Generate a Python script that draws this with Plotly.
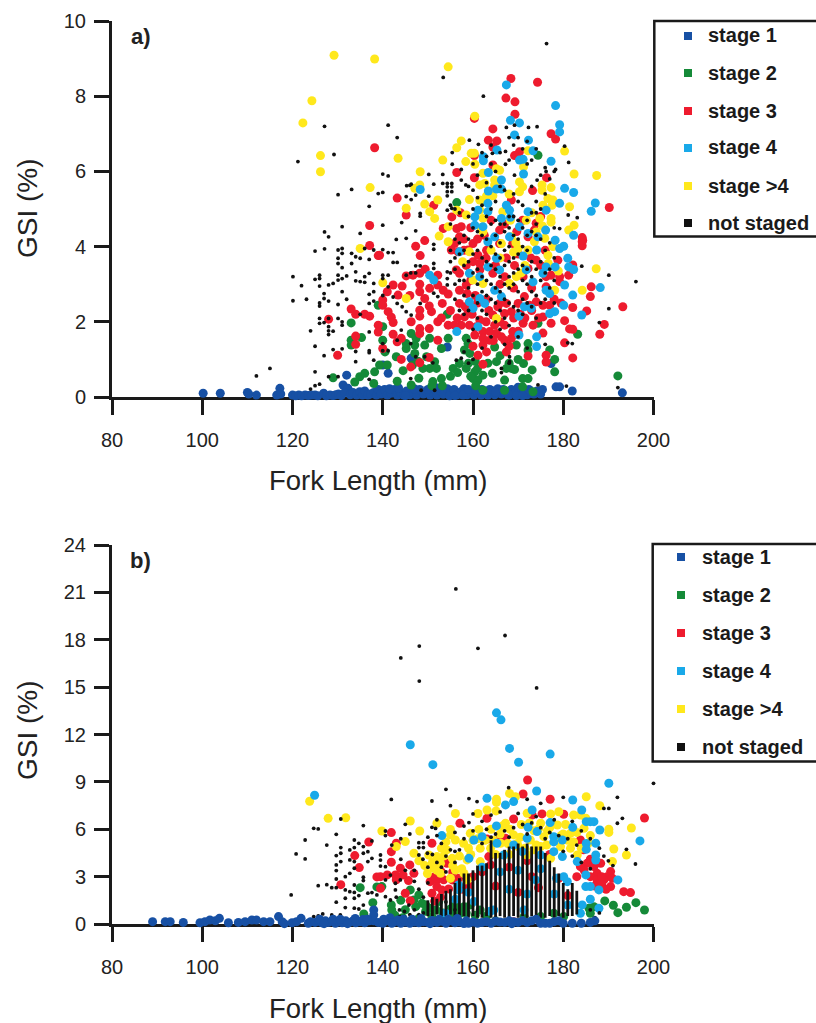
import plotly.graph_objects as go

# ---------- panel a (fork length mm, GSI %) ----------
a_stage1 = [(100.2,.1),(104,.1),(110,.12),(110.3,.08),(112,.05),(116.5,.05),(117.2,.23),(117.4,.08),(120,.05),(120.7,.03),(121.4,.05),(122,.03),(122.8,.05),(123.5,.04),(124.2,.05),(125,.05),(125.6,.03),(126.9,.1),(127.5,.03),(128.3,.05),(129,.04),(129.6,.06),(130.2,.08),(130.8,.04),(131.2,.32),(132,.58),(132.3,.23),(131.6,.12),(132.8,.06),(133.4,.12),(134.2,.05),(134.9,.14),(135.5,.05),(136,.16),(136.7,.05),(137.3,.08),(138,.12),(138.6,.05),(139,.2),(139.6,.08),(140,.85),(141.2,.63),(140.4,.2),(141,.05),(141.8,.1),(142.6,.2),(143.2,.05),(143.9,.12),(144.6,.05),(145.3,.16),(146,.06),(146.3,1.03),(146.8,.12),(147.5,.05),(148.2,.2),(149,.08),(149.7,.14),(150.5,.05),(151.2,.12),(152,.05),(152.7,.18),(153.4,.07),(154.3,1.33),(154.3,.22),(155,.08),(155.8,.2),(156.5,.06),(157.3,.14),(158,.22),(158.7,.06),(159.4,.12),(160.2,.05),(161,.12),(161.8,.05),(162.5,.1),(163.3,.05),(164,.18),(164.8,.06),(165.5,.22),(166.3,.08),(167,.12),(167.8,.05),(168.5,.2),(169.2,.1),(170,.26),(170.7,.08),(171.4,.16),(172,.06),(172.8,.1),(173.5,.08),(174.2,.16),(175,.08),(175.4,.2),(177.3,.89),(178.4,.27),(179.2,.27),(182,.16),(193.1,.11),(141.5,.22),(143.5,.24),(145,.04),(147,.22),(150,.2),(151.7,.25),(154.8,.03),(156,.04),(157.8,.05),(159,.2),(160.7,.18),(162,.2),(163.7,.2),(165,.12),(166.7,.2),(168,.05),(169.6,.04),(171,.04),(172.4,.2)]
a_stage2 = [(174.4,6.43),(156.4,5.17),(154.3,2.2),(183.2,1.67),(192.1,.56),(178.1,.67),(173.1,.72),(171.2,.89),(169.2,.73),(167.4,.76),(165.2,.94),(164.3,.63),(162.2,.58),(167,.45),(171,.49),(172.2,.49),(151.5,.94),(150.4,.76),(148.9,.76),(149.7,1.07),(151.9,.76),(149.3,1.38),(147.1,1.38),(147.1,1.16),(145.2,1.29),(145.2,1.42),(146.3,1.69),(147.4,1.56),(143,1.07),(140,1.51),(140,1.87),(154.5,1.56),(153,1.29),(158.5,1.56),(158.9,1.42),(158.1,1.25),(159.3,1.16),(172.2,1.42),(172.2,1.25),(174.4,1.96),(177,1.25),(178.1,1),(164.8,1.33),(157,.89),(155.6,.76),(158.5,.76),(160.4,.67),(160,.49),(161.1,.45),(153,.49),(151.1,.41),(146.3,.32),(143.2,.42),(167,.18),(171,.27),(173.3,.14),(162.2,.18),(150.4,1.56),(169.6,1.38),(168.5,.76),(139,2.44),(133,1.97),(133,1.51),(135.3,1.58),(133,1.38),(129,.51),(134.9,.54),(136,.63),(133.8,.4),(138.2,.67),(139.3,.85),(138,.36),(160.5,.95),(159.5,.55),(161,.75),(150.9,.3),(153.2,.3),(140.5,1.2),(141,.85),(155,.55),(156.6,.65),(159,.9),(160.6,.3),(163.3,.9),(166,1.1),(168,.9),(170,1),(147.8,.95),(144.5,.7),(146.6,.85),(148,.5)]
a_stage3 = [(168.4,8.47),(174.3,8.37),(167.3,7.95),(169.3,7.85),(169.3,7.52),(160.3,7.41),(164.4,7.13),(163.4,6.83),(165.3,6.81),(164.4,6.65),(177.3,7),(178.3,6.86),(170.3,6.52),(169.2,6.42),(160.3,6.42),(164.4,6.17),(156.4,5.97),(160.3,5.83),(176.3,5.83),(173.2,5.49),(190.2,5.04),(143.2,5.29),(151.3,5.1),(145.2,4.84),(155.3,4.79),(184.2,4.13),(184.2,4.24),(184.2,4.02),(149.3,4.16),(147.3,4.01),(148.3,3.76),(138.2,6.63),(137.1,4.56),(137.1,4.03),(139,3.76),(133,2.34),(134,2.2),(136,2.2),(137.1,2.15),(139,1.91),(139,1.73),(134,1.62),(134,1.4),(128,2.07),(130,1.11),(139.3,3.77),(145.2,3.22),(146.7,3.24),(148.2,3.29),(152.2,3.24),(142.3,2.98),(144.3,2.95),(148.2,3),(150.4,2.89),(152.2,2.98),(153.4,2.84),(154.5,2.74),(148.2,2.8),(149.3,2.62),(143.4,2.71),(140,2.58),(140,2.44),(153.2,2.49),(150.3,2.42),(150.8,2.27),(148.2,2.31),(148.2,2.15),(141.2,2.27),(141.9,2.12),(142.3,1.98),(146.3,2),(152.2,2),(148.2,1.82),(150.3,1.82),(148.2,1.69),(142.3,1.67),(144.1,1.56),(143.2,1.47),(152.2,1.51),(144.1,1),(148.2,.91),(150.3,1.05),(146.2,.8),(140,1.29),(156.4,4.48),(157.4,4.53),(157,4.26),(155.9,4.08),(155.2,3.91),(156.7,3.86),(153.4,4.48),(157,3.29),(156.3,3.38),(158.5,2.98),(157,2.84),(158.7,2.75),(157,2.49),(158.9,2.31),(158.1,2.13),(157.4,1.91),(155.9,1.91),(154.5,1.91),(159.2,1.91),(161.5,2.05),(160.7,1.87),(162.9,2),(162.2,1.74),(160.4,1.65),(163.7,1.74),(165.2,1.69),(163.7,1.51),(162.2,1.56),(162.2,1.38),(161.1,1.11),(162.2,.87),(167,1.51),(168.5,1.56),(168.8,1.74),(167,1.91),(164.8,1.91),(167.4,1.2),(172.2,1.09),(176.2,1.11),(176.2,.93),(180.3,1.44),(182.1,1.04),(180.3,2.03),(181.4,1.81),(182.1,1.8),(177.3,1.96),(173.3,1.91),(171.1,1.96),(175.5,2.13),(177,2.44),(175.5,2.44),(174,2.53),(172.5,2.44),(167.4,2.49),(165.9,2.49),(168.5,2.27),(167,2.22),(165.5,2.4),(164.4,2.18),(170,2.49),(171.4,2.67),(176.2,3.2),(177.3,3.24),(176.2,2.93),(179.2,3.2),(179.2,3.07),(178.8,3.64),(181.2,3.24),(182.1,3.51),(184.3,4.17),(186.2,2.93),(186,2.67),(185.2,2.29),(182.1,2.38),(189.1,1.93),(188.1,1.67),(193.2,2.4),(165.9,4.44),(161.1,3.77),(162.9,3.69),(161.5,3.55),(161.5,3.38),(164.4,3.29),(173.6,4.44),(174,4.62),(172.2,4.26),(174,3.64),(172.2,3.42),(171.1,3.2),(168.8,4.08),(165.9,4.08),(160,4.08),(158.9,3.91),(167.4,3.7),(169.2,3.5),(168.5,5.24),(158.5,3.5),(159.5,3.1),(160.5,2.7),(169,2.9),(170.5,2.2),(166,3),(163,2.6),(173,2.9),(174.5,2.1),(175,3.5),(157.2,4.9),(158,4.2),(159.5,4.5),(161,4.2),(162.5,4.3),(164,4.7),(167,4.6),(169.7,4.4),(171,4.7),(175,4.8),(158,3.9),(160,3.6),(163,3.9),(165,3.5),(167,3.2),(170,3.8),(172.8,3.7),(176,3.9),(178,2.6),(179.5,2.5),(158.3,2.4),(159.8,2.2),(161,2.5),(163.5,2.3),(166,2),(169,2.1),(171.5,2.1),(173,2.3),(175.5,1.7),(160,1.35),(163,1.2),(164.5,1.5),(166.3,1.6),(168,1.35),(170,1.75),(155,2.3),(156.5,2.1),(153,2.1),(149.4,3.4),(146,2.7),(141,2.8)]
a_stage5 = [(129.2,9.09),(138.2,8.99),(124.3,7.88),(122.3,7.29),(126.2,6.42),(126.2,5.99),(137.2,5.57),(135,3.95),(154.5,8.78),(160.4,7.47),(143.4,6.35),(157.4,6.81),(156.4,6.63),(153.3,6.3),(159.6,6.48),(160.3,6.48),(158.4,6.26),(160.4,6.19),(148.3,5.99),(148.2,5.64),(147.1,5.55),(165.9,6.03),(165.2,6.07),(171.2,6.12),(172.2,6.55),(180.3,6.54),(182.4,5.93),(187.4,5.89),(162.2,5.95),(161.5,5.64),(162.6,5.68),(164.8,5.77),(164.8,5.64),(170.3,5.72),(171,5.59),(170.3,5.46),(175.3,5.64),(175.3,5.5),(177.3,5.57),(176.6,5.28),(177.7,5.24),(175.5,5.1),(181.4,5.06),(177.3,4.75),(177.3,4.65),(182.4,4.57),(181.2,4.44),(159.2,5.25),(161.5,5.24),(152.2,5.24),(149.3,5.13),(150.4,4.93),(151.5,4.75),(145.2,5.02),(156.4,4.97),(158.5,4.84),(162.2,4.75),(161.5,4.97),(166.6,4.93),(154.5,4.53),(152.5,4.28),(162.2,4.39),(171.8,4.7),(174,4.39),(175.9,4.22),(173.6,4.13),(172.2,3.91),(166.3,4.08),(168.5,4.26),(176.6,3.77),(177.7,4),(187.3,3.41),(184.2,2.84),(178.1,2.84),(159.2,3.86),(154.5,4.13),(160,3.11),(162.2,3.02),(168.1,3.02),(169.6,3.2),(165.2,2.09),(145.2,2.62),(140,3.04),(171.5,3.5),(164,3.9),(177.5,5.1),(173,4.9),(162.7,5.2),(168.3,4.7),(163,5.35),(164.4,5.35),(161.8,4.5),(169.5,4.1),(170,3.95),(166,3.7),(174.8,4.75),(175.4,4.55),(168,5.4),(169,3.85),(170.7,3.3),(157.7,3.6),(178.9,3.35),(176.7,3.55)]
a_stage4 = [(167.4,8.3),(178.3,7.75),(179.2,7.24),(179.2,7.05),(168.3,7.36),(170.3,7.29),(169.2,6.97),(172.3,6.83),(165.3,6.57),(173.3,6.55),(162.3,6.39),(162.3,6.28),(171.1,6.32),(170.3,6.3),(177.3,6.27),(163.4,5.97),(171.2,5.93),(166.3,5.77),(165.2,5.53),(166.3,5.53),(163.4,5.48),(148.3,5.52),(180.3,5.55),(182.3,5.44),(179.2,5.15),(187.1,5.16),(186.2,4.94),(176.2,4.97),(167.4,5.1),(168.1,4.97),(161.1,4.97),(160.4,4.79),(163.3,5.15),(163.3,4.93),(172.2,4.93),(166.3,4.75),(168.3,4.78),(160.4,4.57),(162.2,4.53),(170.3,4.53),(176.1,4.44),(172.2,4.35),(174.4,4.26),(182.3,4.3),(164.8,4.26),(163.3,4.13),(168.1,4.26),(178.2,4.17),(180.1,4.01),(179.2,3.95),(174.1,3.91),(171.1,3.75),(157,3.86),(181,3.69),(181.2,3.46),(182.3,3.39),(178.2,3.46),(176.2,3.46),(165.2,3.69),(163.3,3.46),(165.9,3.38),(159.2,3.29),(161.5,3.2),(171.8,3.38),(175.5,3.29),(150.4,3.24),(151.3,3.11),(180.3,2.98),(188.2,2.91),(182.1,2.71),(177,2.75),(176.2,2.84),(164.8,2.84),(166.3,2.67),(161.5,2.62),(159.2,2.53),(162.6,2.49),(160,2.36),(171.4,2.4),(172.9,2.36),(180.1,2.44),(178.1,2.27),(177,2.22),(184.1,2.18),(170.2,2.15),(156.4,1.74),(161.1,1.87),(174.1,1.6),(174.1,1.34),(170.2,1.65),(173.3,3.06)]
a_not_staged = [(127.1,7.2),(129.2,6.45),(121.2,6.26),(130.1,5.38),(133.1,5.52),(137,5.07),(139,5.41),(131,4.53),(127.1,4.39),(128,4.26),(135,4.35),(125,3.88),(127.1,3.94),(130.1,3.91),(131,3.95),(131,3.82),(130.1,3.69),(130.1,3.55),(133.1,3.82),(133.1,3.55),(134,3.73),(135,3.69),(136,3.95),(138,3.91),(137,3.66),(131,3.44),(134,3.33),(126,3.24),(126,3.15),(120.1,3.2),(125,3.13),(130.1,3.24),(130.1,3.11),(131,3.15),(132,3.22),(134,3.09),(135,3.07),(136,3.2),(137,3.29),(136,3.05),(138,3.02),(122,2.96),(126,2.95),(128,2.98),(129,3.02),(131,2.8),(137,2.73),(138,2.8),(127,2.75),(127,2.62),(123.1,2.6),(120.1,2.56),(128,2.55),(132,2.6),(126,2.5),(126,2.42),(130.1,2.46),(138,2.55),(137,2.49),(126,2.09),(126,1.96),(128,2.09),(127,1.98),(130.1,2.09),(131,2),(131,1.91),(135,2.2),(124,1.76),(128,1.87),(128,1.76),(128,1.66),(129,1.75),(137,1.73),(125,1.35),(134,1.21),(137,1.23),(129,1.26),(131,1.28),(127,1.1),(134,.94),(138,.98),(137,1.18),(115,.76),(112,.56),(125,.67),(124,.21),(125,.3),(126,.34),(128,.54),(130.1,.54),(137,.47),(176.3,9.4),(153.4,8.5),(162.3,8),(141.2,7.23),(143.2,6.9),(167.4,7.17),(169.2,7.23),(172.3,7.17),(174.2,7.19),(161.2,6.72),(159.2,6.83),(155.4,6.5),(164.3,6.48),(167.2,6.53),(180.3,6.67),(181.2,6.24),(155.4,6.19),(157.4,6.05),(167.2,6.19),(140,5.93),(141.2,5.88),(150.2,5.92),(153.3,5.92),(140,5.44),(145.3,5.62),(146.3,5.66),(151.3,5.66),(153.3,5.68),(154.3,5.68),(155.3,5.68),(154.3,5.59),(155.3,5.59),(154.3,5.46),(155.3,5.46),(154.3,5.35),(157.4,5.77),(158.4,5.64),(169.2,5.9),(176.2,6),(178.3,6.05),(174.2,5.77),(147.3,5.37),(145.2,5.33),(146.3,5.25),(150.2,5.34),(140,4.57),(144.2,4.64),(148.3,4.88),(148.3,4.81),(154.3,4.97),(155.3,5.02),(181.1,4.84),(183.1,4.77),(179.2,4.48),(147.3,4.42),(143,4.19),(145.2,4.22),(151.3,4.06),(151.3,3.93),(140,3.92),(141.2,3.84),(142.3,3.84),(142.3,3.58),(143.2,3.58),(147.3,3.49),(148.3,3.49),(151.3,3.55),(151.3,3.42),(184.1,3.48),(190.1,3.24),(196.1,3.07),(190.1,2.35),(188,1.98),(140,3.24),(140,3.15),(141.2,3.24),(146,5.63),(146.2,3.3),(145.2,3.24),(147.3,3.3),(140,2.7),(141.2,2.93),(142.3,2.66),(143.2,2.49),(144.3,2.4),(145.2,2.27),(146.3,2.18),(148.3,2.49),(151.3,2.76),(152.2,2.67),(154.3,3.33),(154.3,3.15),(154.3,2.98),(140,1.42),(140,1.23),(141.2,1.23),(143.2,1.51),(144.1,1.78),(146.2,1.42),(147.3,1.07),(149.3,1.07),(151.1,.91),(156.3,.98),(157.4,1.03),(166.3,.76),(166.3,.65),(168.1,1.07),(168.1,.94),(181,1.44),(182,1.42),(180.7,.29),(192.1,.25),(174.4,.32),(146.2,.49),(148.5,.18),(151.5,.18)]
a_not_staged_columns = [(155,[5.1,4.6,3.9,3.6,3.3]),(156,[5.0,4.2,3.7,3.4,3.0,2.6]),(157,[4.9,4.1,3.8,3.1,2.3]),(158,[4.3,3.9,3.5,3.1,2.7,2.2,1.2]),(159,[5.6,4.8,4.2,3.6,2.9,2.3,1.5,.9]),(160,[6.2,5.5,5,4.5,3.8,3.3,2.7,1.8,1]),(161,[5.9,5.3,4.4,3.9,3.4,3,2.5,2.1]),(162,[6.5,5.1,4.3,3.7,3.2,2.8,2.3,1.3]),(163,[6.4,5.7,4.8,4.2,3.6,3.1,2.7,2.2]),(164,[6.7,6.2,5,4.6,4,3.5,3,2.6,1.6]),(165,[6,5.2,4.7,4.3,3.8,3.4,2.9,2.5,2]),(166,[6.5,5.6,4.6,4.1,3.7,3.2,2.8,2.3,1.8]),(167,[5.5,4.6,4.4,3.9,3.5,3,2.6,2.1,1.4]),(168,[6.9,6.3,4.8,4.5,4,3.6,3.2,2.9,2.5,1.9,.9]),(169,[6.7,5.4,4.8,4.3,3.7,3.3,3,2.4]),(170,[6.9,5.2,4.7,4.2,3.8,3.4,2.8,2.3,1.6]),(171,[6.6,5.1,4.5,4,3.5,3.1,2.6,2.2]),(172,[6.8,6.2,4.7,4.3,3.9,3.4,3,2.5,1.3]),(173,[6.3,5.6,4.9,4.4,3.6,3.2,2.8,2.4]),(174,[6.6,5.2,4.9,4.6,4.3,3.4,2.7,2.1]),(175,[5.9,5,4.2,3.6,3.1,2.5]),(176,[6.1,5.4,3.9,3.3,2.6,1.4]),(177,[5.8,4.1,3.4,2.9]),(178,[6,4.5,3.7,3.1,2.5])]

# ---------- panel b ----------
b_stage1 = [(89,.15),(91.8,.15),(92.9,.15),(95.8,.1),(99.5,.08),(100.6,.15),(101.7,.25),(102.9,.2),(103.8,.36),(105.8,.08),(108,.1),(109.5,.15),(111,.25),(112,.25),(113.6,.15),(115,.15),(116.9,.47),(117.7,.15),(118.2,.02),(119.9,.08),(120.9,.15),(121.9,.36),(123.5,.05),(124,.15),(125,.1),(125.8,.2),(126.5,.08),(127.3,.2),(128,.1),(128.8,.2),(129.5,.05),(130.2,.15),(131,.08),(131.8,.2),(132.6,.1),(133.4,.2),(134,.08),(135,.15),(136,.08),(137,.2),(138,.89),(138,.57),(138,.2),(139,.1),(140,.05),(140.8,.2),(141.6,.4),(142.4,.1),(143.3,.25),(144,.05),(145,.12),(146,.05),(147,.12),(148,.08),(149,.15),(150,.1),(151,.22),(152,.1),(153,.18),(154,.05),(155,.2),(156,.08),(157,.12),(158,.03),(159,.05),(160,.12),(161,.05),(162,.1),(164,.05),(165,.18),(166,.12),(167,.1),(168,.2),(169,.15),(170,.1),(172,.1),(173,.2),(174,.3),(175,.05),(176,.05),(177,.05),(179,.2),(180,.05),(182,.05),(184,.05),(186,.1),(187,.2),(126,.3),(127,.02),(129,.3),(130.6,.3),(132.2,.02),(133.9,.35),(135.6,.28),(136.6,.3),(140.2,.3),(142,.05),(144.6,.3),(146.5,.3),(148.5,.35),(150.5,.02),(152.5,.3),(154.5,.3),(156.5,.35),(158.5,.2),(163,.15),(168.6,.02),(171,.2),(178,.15)]
b_stage2 = [(139.8,2.37),(141.9,1.21),(142,.89),(146.1,2.16),(148,1.84),(146.9,1.52),(148.7,1.31),(150.5,1),(152.4,1.42),(150.9,.47),(148,.36),(157.2,.89),(157.2,.68),(159.4,1.21),(161.6,.89),(165,.2),(175,.47),(177.9,.68),(180.1,.47),(186,.68),(186.8,1.1),(189.2,1.46),(191.1,1.19),(194,1.06),(196.1,1.35),(198,.89),(192.1,.72),(185.7,1),(171.3,.47),(135,2.3),(138.7,2.35),(137.8,1.35),(135.8,.64),(144,1.5),(145,.9),(149.5,.8),(151.8,.9),(155,.95),(158.5,.7),(160.5,.55),(163,.5),(154,.4),(147.3,1.1),(149.5,1.2),(153.3,.7),(155.7,.55),(142.7,.55),(144.4,.4),(156,1.2),(158,1.1)]
b_stage3 = [(136.9,5.19),(133.8,4.33),(134.8,3.57),(138.7,2.98),(130.7,2.49),(172.1,9.12),(171.1,8.23),(177.1,7.9),(198,6.71),(157.1,6.38),(163.1,6.69),(169,6.65),(180.1,6.95),(173.1,6.9),(175.3,6.97),(141.9,5.79),(143,5.11),(150.9,5.11),(163.1,5.38),(141.9,4.58),(141.9,3.91),(146,3.74),(143.9,3.53),(146.9,3.21),(142.8,3.11),(141,3.11),(139.5,3),(145.7,2.75),(145,1.95),(146.1,1.48),(139.5,2.26),(150.5,2.68),(152,2.79),(152,2.37),(150.9,1.95),(153.1,2.16),(154.6,2.22),(155.4,2.79),(156.8,2.89),(154.2,3.84),(163.5,4.27),(163.9,3.74),(167.2,5.43),(183.8,5.32),(193.4,2.05),(194.9,1.99),(190.5,3.32),(189.7,3),(190.9,2.89),(189,2.79),(190.5,2.37),(188.3,3.84),(186.8,3.63),(185.3,3.84),(184.6,3.42),(187.5,3.21),(186,3),(187.5,2.79),(183.8,3.63),(169,.15),(188.5,3),(187,2.4),(152.8,1.7),(151.5,1.45),(160,3),(162,3.3),(165,2.4),(168,3.6),(170,2),(172,4),(174.5,2.3),(177,4.4),(179,2.9),(181,1.8),(183,3),(151.5,3),(153.5,2.8),(157.8,2.2),(159.2,2.4),(186,4.1),(187,3.95),(184.5,4.7),(188.5,2.5),(189.5,2.2),(166,5.6),(173,3),(155.5,3.3),(153,3.3),(143,2.8),(144.5,3.1)]
b_stage5 = [(123.8,7.77),(127.9,6.69),(131.8,6.73),(165.2,7.9),(165.2,7.7),(168.1,8.27),(169.4,8.06),(185.1,8.06),(188.1,7.49),(163.1,7.22),(165.1,7.16),(156.1,7),(161.1,7),(146.1,6.52),(139.8,5.89),(148.2,5.89),(152,6.38),(155,5.99),(155,5.64),(195.1,6.08),(190.1,6),(190.1,5.8),(191.2,4.75),(194,4.37),(190.9,3.95),(145,5.22),(143,4.9),(146.9,4.48),(172,7.01),(179,7.11),(177.2,6.97),(183.8,6.9),(182.3,6.9),(167.2,6.38),(175,6.38),(178.7,6.27),(181.6,5.74),(184.6,6.06),(161.3,5.99),(159.4,5.74),(157.9,5.11),(156.1,5.32),(154.2,4.69),(152,4.27),(150.2,4.37),(152.8,3.84),(151.3,3.53),(155.4,4.16),(161.6,4.79),(163.9,4.79),(166.1,5.11),(169,5.64),(172.7,5.32),(175.7,5.53),(175,4.9),(179.4,4.9),(181.6,4.79),(183.1,4.37),(177.2,4.16),(172,4.37),(161.6,3.95),(158.7,4.06),(156.1,3.42),(152.8,3.21),(158.7,2.79),(166.5,6.2),(168.2,6),(173.5,5.9),(176.5,5.9),(180.5,6.3),(181,5.3),(183,5.8),(185,6.7),(186,5.6),(170,4.9),(168,4.4),(165,4.4),(159,4.8),(157,4.3),(154,5.2),(153,4.8),(160,5.3),(164,6),(170.5,5.5),(174,5),(151,3.9),(153.5,4.3),(155.5,3.7),(157.5,3.5),(159.5,4.4),(161,5.4),(162.7,5.3),(164.5,5.3),(166,5.7),(167.7,5.1),(169.8,5.1),(171.5,4.8),(173.5,4.7),(176.3,5),(178.2,5.4),(180,5.7),(182.3,5.2),(184,4.8),(185.5,5.1),(170.7,6.3),(172.5,6.4),(174.5,6),(177,6.1),(179.5,5.6),(148,4),(149.3,3.7),(149.9,3.2),(152,3.4),(158,3.2),(155,2.9)]
b_stage4 = [(124.9,8.15),(165.2,13.37),(166.2,12.93),(146.1,11.35),(168.1,11.12),(177.1,10.76),(170.1,10.24),(151.1,10.09),(190.1,8.91),(174.1,8.42),(182.1,7.85),(163.1,7.96),(169,7.75),(167.2,7.54),(184.1,7.22),(173.1,7.22),(197,5.26),(186.8,6.48),(185.1,6.48),(186,6.48),(188.1,5.95),(165.2,6.21),(172.2,6.12),(182.1,6.12),(177.1,6.42),(153.1,5.6),(162,5.53),(174.2,5.85),(177.9,5.53),(177.9,5.2),(179.8,5.32),(187.2,5.11),(185.1,5.1),(185.1,4.73),(187.2,4.37),(187.2,4.05),(192.1,2.79),(160.2,5.32),(165.3,5.11),(169,5),(172,5.43),(159.1,4.16),(166.8,4.37),(170.9,4.58),(175,4.37),(177.9,4.58),(179.8,4.27),(183.1,3.95),(156.8,2.47),(156.8,2.16),(185,3.11),(186,2.37),(185,2.37),(187.9,2.16),(186,1.57),(184.2,1.21),(183.8,.68),(187.9,1),(164.6,.89),(160.2,1.42),(156.1,1.57),(153.9,.68),(171.3,.89),(163.8,.8),(180.1,3),(173.9,2.79),(180.9,2.68),(178.5,2.9),(162,3.6),(166,3.3),(170,3.4),(175,3.5),(178,1.9),(172,1.9),(168,2.2),(159,2),(181,1.2)]
b_not_staged = [(156.2,21.22),(167.1,18.27),(148.1,17.6),(161.1,17.46),(144,16.85),(148.1,15.38),(174.1,14.95),(124.7,6.06),(125.7,6.02),(135.7,6.23),(130.7,6.65),(129.7,5.68),(122.8,5.32),(127.6,5),(120.8,4.44),(122.8,4.12),(119.7,1.84),(125.7,2.43),(127.6,2.49),(133.7,5.32),(134.7,5.11),(137.6,5.26),(130.7,4.84),(132.7,4.69),(133.7,4.84),(135.7,4.9),(136.7,4.58),(130.7,4.48),(129.7,4.33),(135.7,4.48),(132.7,4.06),(130.7,3.95),(133.7,3.95),(137.6,4.16),(136.7,3.95),(129.7,3.74),(129.7,3.38),(133.7,3.53),(132.7,3.21),(131.7,3),(129.7,2.85),(135.7,2.96),(135.7,2.75),(128.7,2.3),(129.7,2.3),(131.7,2.16),(132.7,2.05),(133.7,2.47),(133.7,2),(134.7,1.8),(136.7,1.95),(137.6,1.99),(131.7,1.63),(133.7,1.63),(129.7,1.38),(135.7,1.2),(131.7,1.04),(133.7,1),(134.7,.95),(138.7,1.84),(136.7,.47),(135.8,.35),(128.7,.57),(124.7,.47),(125.7,.51),(126.7,.64),(130.6,.57),(141.9,7.89),(154,8.53),(150.9,7.79),(159.1,7.94),(160.9,7.75),(155,7.49),(167.9,8.63),(172,7.9),(175,7.64),(180,8.02),(192,8.02),(200,8.91),(189,7.32),(190.1,7.32),(193.1,6.69),(192,6.38),(145,6.31),(140.6,5.89),(140.6,5.6),(150.9,6.12),(151.7,6.05),(159.1,6.42),(160,6.97),(194,4.73),(196,3.8),(148,5.15),(149,5.15),(148,4.84),(149,4.84),(149.9,4.48),(148.9,4.1),(148,4.37),(139.5,4.37),(139.5,4.05),(139.5,3.67),(140.6,3.63),(141.7,3.1),(140.6,2.79),(142.8,2.58),(143.9,2.79),(142.8,2.16),(140.6,1.73),(141.7,1.52),(143.7,.89),(144.8,.79),(143.7,.47),(144.8,.47),(145.8,1.2),(147,.9),(148,.6),(149,.7),(153,5.1),(155,4.7),(156,5.8),(158,6.2),(162,6.5),(164,6.9),(166,7.1),(170,7),(174,6.8),(178,6.6),(182,6.5),(184,5.9),(186,5.4),(188,4.8),(189,4.3),(190,4),(191,3.7),(152,5.6),(154,3.3),(156,3.9),(157,4.7),(150,3.6),(151,4.4),(153,3.6),(147,3.4),(144,4.1),(145,3.4),(150,2.6),(154,1.4),(156,.9),(186,.9),(187,.4),(188,.7),(163,6),(165,5.7),(167,5.9),(169,6.1),(171,6.3),(173,6.4),(175,6.1),(177,5.8),(179,5.6),(181,5.4),(183,5),(160,5.9),(162,5.1),(158,5.4),(156,4.6),(154,4.3),(152,3.9),(164,5.5),(168,5.5),(172,5.7),(176,5.4),(180,4.6),(182,4.3),(184,3.9),(186,3.5),(150,5.5),(152,6.6),(146,5.7),(144,5.4),(142,5),(147,2.7),(148,2.2),(149,1.7),(143,1.7),(146,.6)]
b_stripe_fl  = [150,151,152,153,154,155,156,157,158,159,160,161,162,163,164,165,166,167,168,169,170,171,172,173,174,175,176,177,178,179,180,181,182,183]
b_stripe_top = [1.5,1.7,1.6,1.9,2.1,2.2,2.6,2.9,3.2,3.2,3.4,3.7,3.7,3.85,5.3,4.5,4.5,4.7,4.9,4.9,5.1,4.9,5.1,4.9,4.9,4.9,4.5,4,3.6,3.2,2.6,2.2,2.6,2.1]
b_stripe_low = [.5,.5,.6,.5,.5,.6,.5,.5,.5,.4,.5,.4,.4,.5,.4,.4,.5,.4,.4,.5,.4,.5,.4,.5,.4,.4,.4,.5,.4,.5,.4,.5,.5,.6]

tick_x = [80,100,120,140,160,180,200]
tick_a = [0,2,4,6,8,10]
tick_b = [0,3,6,9,12,15,18,21,24]
legend_labels = ["stage 1","stage 2","stage 3","stage 4","stage >4","not staged"]

BLUE, GREEN, RED, CYAN, YELLOW, BLACK = "#1750A4","#158A38","#EE1B2E","#19A9E9","#FFE81C","#111111"
FONT = "Liberation Sans, Arial, sans-serif"

def pts(x, y, color, size, xa, ya):
    return go.Scatter(x=x, y=y, mode="markers", xaxis=xa, yaxis=ya, cliponaxis=False, showlegend=False,
                      marker=dict(color=color, size=size, line=dict(width=0)))

def unzip(p):
    return [q[0] for q in p], [q[1] for q in p]

def columns(c):
    xs, ys = [], []
    for fl, vals in c:
        for v in vals:
            xs.append(fl); ys.append(v)
    return xs, ys

fig = go.Figure()
S = 9; K = 3.8
for data, col in [(a_stage1,BLUE),(a_stage2,GREEN),(a_stage3,RED),(a_stage5,YELLOW),(a_stage4,CYAN)]:
    fig.add_trace(pts(*unzip(data), col, S, "x", "y"))
fig.add_trace(pts(*unzip(a_not_staged), BLACK, K, "x", "y"))
fig.add_trace(pts(*columns(a_not_staged_columns), BLACK, K, "x", "y"))

for data, col in [(b_stage2,GREEN),(b_stage3,RED),(b_stage5,YELLOW),(b_stage4,CYAN)]:
    fig.add_trace(pts(*unzip(data), col, S, "x2", "y2"))
sx, sy = [], []
for fl, hi, lo in zip(b_stripe_fl, b_stripe_top, b_stripe_low):
    sx += [fl, fl, None]; sy += [lo, hi, None]
fig.add_trace(go.Scatter(x=sx, y=sy, mode="lines", xaxis="x2", yaxis="y2", showlegend=False,
                         line=dict(color=BLACK, width=2.8)))
fig.add_trace(pts(*unzip(b_not_staged), BLACK, K, "x2", "y2"))
fig.add_trace(pts(*unzip(b_stage1), BLUE, S, "x2", "y2"))

W, H = 816, 1023
def px(x): return x / W
def py(y): return 1 - y / H

def xaxis(dom_anchor):
    return dict(domain=[px(112), px(653.5)], range=[80,200], tickvals=tick_x, anchor=dom_anchor,
                automargin=False,
                showgrid=False, zeroline=False, showline=True, linecolor="#1a1a1a", linewidth=3,
                ticks="outside", ticklen=15, tickwidth=3, tickcolor="#1a1a1a", layer="below traces",
                ticklabelstandoff=8,
                tickfont=dict(family=FONT, size=20, color="#222"))
def yaxis(dom, rng, vals, anchor):
    return dict(domain=dom, range=rng, tickvals=vals, anchor=anchor, automargin=False,
                showgrid=False, zeroline=False, showline=True, linecolor="#1a1a1a", linewidth=3,
                ticks="outside", ticklen=15, tickwidth=2.5, tickcolor="#1a1a1a", layer="below traces",
                ticklabelstandoff=4,
                tickfont=dict(family=FONT, size=20, color="#222"))

shapes, notes = [], []
def legend(left, top, bottom, sw_x, text_x, ys):
    shapes.append(dict(type="rect", xref="paper", yref="paper", x0=px(left), x1=px(W+6), y0=py(top), y1=py(bottom),
                       line=dict(color="#1a1a1a", width=2.5), fillcolor="white", layer="above"))
    for lab, col, y in zip(legend_labels, [BLUE,GREEN,RED,CYAN,YELLOW,BLACK], ys):
        shapes.append(dict(type="rect", xref="paper", yref="paper", x0=px(sw_x-4), x1=px(sw_x+4), y0=py(y-4), y1=py(y+4),
                           line=dict(width=0), fillcolor=col, layer="above"))
        notes.append(dict(text="<b>%s</b>" % lab.replace(">", "&gt;"), xref="paper", yref="paper", x=px(text_x), y=py(y-0.5),
                          xanchor="left", yanchor="middle", showarrow=False, font=dict(family=FONT, size=20, color="#1a1a1a")))
legend(654.3, 21, 236.5, 688, 706, [36,73,111,148,186,223])
legend(652.7, 544, 761.5, 681, 700, [557,595,633,671,709,747])
def label(txt, x, y, size, rot=0, bold=False):
    notes.append(dict(text=("<b>%s</b>" % txt) if bold else txt, xref="paper", yref="paper", x=px(x), y=py(y),
                      xanchor="center", yanchor="middle", textangle=rot, showarrow=False,
                      font=dict(family=FONT, size=size, color="#222")))
label("a)", 141, 37, 22, bold=True)
label("b)", 140, 560, 22, bold=True)
label("Fork Length (mm)", 378, 480, 27.5)
label("Fork Length (mm)", 378, 1008, 27.5)
label("GSI (%)", 27, 208, 28, rot=-90)
label("GSI (%)", 27, 730, 28, rot=-90)

fig.update_layout(width=W, height=H, margin=dict(l=0,r=0,t=0,b=0), paper_bgcolor="white", plot_bgcolor="white",
                  showlegend=False, shapes=shapes, annotations=notes,
                  xaxis=xaxis("y"), yaxis=yaxis([py(397), py(21)], [0,10], tick_a, "x"),
                  xaxis2=xaxis("y2"), yaxis2=yaxis([py(924), py(545)], [0,24], tick_b, "x2"))
fig.write_html("out.html", post_script="document.body.style.margin='0';", config=dict(displayModeBar=False))
